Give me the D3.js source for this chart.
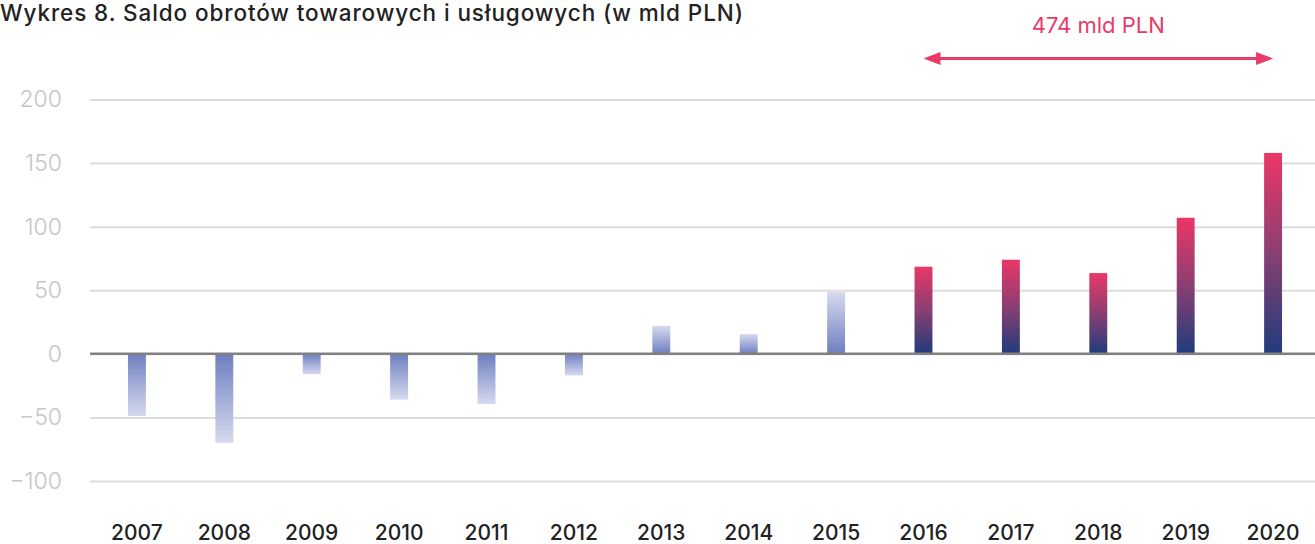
<!DOCTYPE html>
<html>
<head>
<meta charset="utf-8">
<script src="https://cdn.jsdelivr.net/npm/d3@7"></script>
<style>
  html, body { margin: 0; padding: 0; background: #fff; }
  svg { display: block; font-family: 'Inter', 'Lato', sans-serif; }
</style>
</head>
<body>
<svg width="1315" height="544"></svg>
<script>
// data
const years = ['2007', '2008', '2009', '2010', '2011', '2012', '2013', '2014', '2015', '2016', '2017', '2018', '2019', '2020']
const saldo = [-49, -70, -16, -36, -39.5, -17, 22, 15.5, 48.5, 68.5, 74, 63.5, 107, 158]
const yTicks = [-100, -50, 0, 50, 100, 150, 200]
const highlightFrom = '2016'
const highlightTo = '2020'
const title = 'Wykres 8. Saldo obrotów towarowych i usługowych (w mld PLN)'
const arrowLabel = '474 mld PLN'

const width = 1315
const height = 544
const left = 90
const font = "'Inter', 'Lato', sans-serif"

const svg = d3.select('svg')

const xScale = d3.scaleBand().domain(years).range([93, 1317]).paddingInner(0.795).paddingOuter(0.4)
const yScale = d3.scaleLinear().domain([-100, 200]).range([481, 99.5])

// gradients
const defs = svg.append('defs')
const gradient = (id, stops) => {
    const g = defs.append('linearGradient').attr('id', id)
        .attr('x1', 0).attr('y1', 0).attr('x2', 0).attr('y2', 1)
    stops.forEach(([o, c]) => g.append('stop').attr('offset', o).attr('stop-color', c))
}
gradient('neg', [[0, '#6e7ec0'], [1, '#d6daef']])
gradient('pos', [[0, '#d6daef'], [1, '#6e7ec0']])
gradient('hot', [[0, '#ea3767'], [0.5, '#8a3f72'], [1, '#1f3c7d']])

// title
svg.append('text')
    .attr('x', 0)
    .attr('y', 21)
    .attr('font-size', 22.5)
    .attr('font-weight', 500)
    .attr('letter-spacing', 0.9)
    .attr('fill', '#222')
    .text(title)

// y axis
const yAxis = d3.axisLeft(yScale)
    .tickValues(yTicks)
    .tickSize(-(width - left))
    .tickFormat((d) => d3.format('')(d).replace('-', '\u2212'))

const yAxesContainer = svg.append('g')
    .attr('class', 'y-axes-container')
    .attr('transform', `translate(${left}, 0)`)
    .call(yAxis)

yAxesContainer.select('.domain').remove()
yAxesContainer.selectAll('.tick line')
    .attr('stroke', '#dcdcdc')
    .attr('stroke-width', 2)
yAxesContainer.selectAll('.tick text')
    .attr('x', -28)
    .attr('fill', '#c6c6c6')
    .attr('font-size', 23)
    .attr('font-weight', 300)
    .attr('font-family', font)

// bars
const highlighted = (y) => +y >= +highlightFrom
svg.append('g')
    .attr('class', 'data-container')
    .selectAll('rect')
    .data(years.map((y, i) => ({ year: y, value: saldo[i] })))
    .enter()
    .append('rect')
    .attr('x', (d) => xScale(d.year))
    .attr('width', xScale.bandwidth())
    .attr('y', (d) => yScale(Math.max(0, d.value)))
    .attr('height', (d) => Math.abs(yScale(d.value) - yScale(0)))
    .attr('fill', (d) => (d.value < 0 ? 'url(#neg)' : highlighted(d.year) ? 'url(#hot)' : 'url(#pos)'))

// zero line
svg.append('line')
    .attr('x1', left)
    .attr('x2', width)
    .attr('y1', yScale(0))
    .attr('y2', yScale(0))
    .attr('stroke', '#808080')
    .attr('stroke-width', 2.5)

// x labels
const xAxis = d3.axisBottom(xScale).tickSize(0).tickPadding(0)
const xAxesContainer = svg.append('g')
    .attr('class', 'x-axes-container')
    .attr('transform', 'translate(0, 522)')
    .call(xAxis)
xAxesContainer.select('.domain').remove()
xAxesContainer.selectAll('.tick text')
    .attr('dy', 0)
    .attr('y', 18)
    .attr('fill', '#222')
    .attr('font-size', 21)
    .attr('font-weight', 500)
    .attr('font-family', font)

// arrow
const pink = '#e93a68'
const ax1 = xScale(highlightFrom) + xScale.bandwidth() / 2
const ax2 = xScale(highlightTo) + xScale.bandwidth() / 2
const ay = 58.5
const head = 17
const arrow = svg.append('g').attr('class', 'arrow')
arrow.append('line')
    .attr('x1', ax1 + head - 2)
    .attr('x2', ax2 - head + 2)
    .attr('y1', ay)
    .attr('y2', ay)
    .attr('stroke', pink)
    .attr('stroke-width', 3)
arrow.append('path')
    .attr('d', `M${ax1},${ay} l${head},-6.5 v13 Z M${ax2},${ay} l${-head},-6.5 v13 Z`)
    .attr('fill', pink)
arrow.append('text')
    .attr('x', (ax1 + ax2) / 2)
    .attr('y', 33)
    .attr('text-anchor', 'middle')
    .attr('font-size', 22)
    .attr('fill', pink)
    .text(arrowLabel)
</script>
</body>
</html>
